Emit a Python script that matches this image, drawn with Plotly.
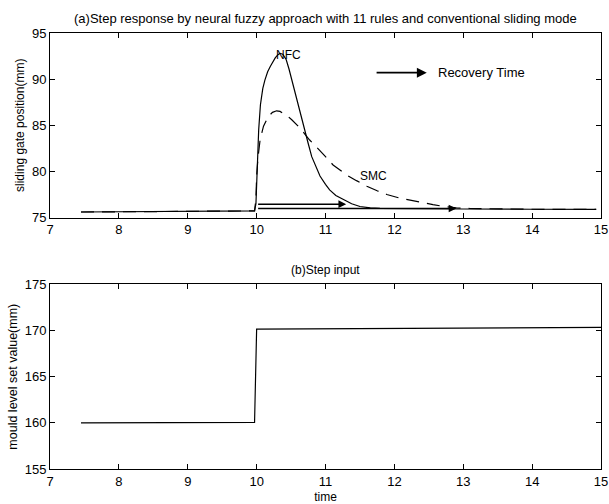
import plotly.graph_objects as go

# ---- data ----
nfc_x = [7.45, 8.0, 8.5, 9.0, 9.5, 9.97, 9.99, 10.0, 10.01, 10.02, 10.03, 10.04, 10.055, 10.07,
         10.09, 10.12, 10.16, 10.2, 10.27, 10.31, 10.34, 10.38, 10.43, 10.47, 10.51, 10.55,
         10.60, 10.65, 10.70, 10.75, 10.80, 10.86, 10.92, 11.0, 11.06, 11.15, 11.26, 11.38,
         11.5, 11.65, 11.79, 12.2, 13.0, 14.0, 14.93]
nfc_y = [75.6, 75.62, 75.65, 75.68, 75.7, 75.72, 76.5, 78.0, 80.5, 82.5, 84.5, 86.0, 87.2, 88.0,
         89.0, 89.9, 90.8, 91.4, 92.3, 92.65, 92.8, 92.7, 92.1, 91.1, 89.9, 88.7,
         87.4, 85.9, 84.5, 83.0, 81.6, 80.5, 79.5, 78.6, 78.0, 77.4, 76.95, 76.5,
         76.2, 76.05, 76.0, 75.95, 75.93, 75.9, 75.88]

smc_x = [7.45, 8.5, 9.5, 9.97, 9.99, 10.0, 10.02, 10.05, 10.1, 10.17, 10.23, 10.29, 10.34, 10.39,
         10.45, 10.51, 10.57, 10.63, 10.70, 10.77, 10.85, 10.92, 11.0, 11.11, 11.2, 11.31,
         11.45, 11.6, 11.75, 11.89, 12.08, 12.27, 12.42, 12.56, 12.72, 12.9, 13.1, 13.3,
         14.0, 14.93]
smc_y = [75.6, 75.65, 75.7, 75.72, 77.0, 79.5, 81.5, 83.4, 84.9, 85.95, 86.4, 86.57, 86.5, 86.3,
         86.0, 85.6, 85.15, 84.7, 84.05, 83.4, 82.8, 82.2, 81.6, 80.7, 80.2, 79.6,
         79.0, 78.4, 77.9, 77.5, 77.1, 76.8, 76.6, 76.4, 76.2, 76.05, 75.98, 75.95,
         75.9, 75.88]

step_x = [7.45, 9.0, 9.97, 10.0, 12.0, 15.0]
step_y = [160.0, 160.02, 160.05, 170.15, 170.25, 170.35]

# recovery-time arrows: start x, end x, level
rec_start = [10.0, 10.0]
rec_end = [11.3, 12.9]
rec_level = [76.45, 75.98]

x_ticks = [7, 8, 9, 10, 11, 12, 13, 14, 15]
top_ticks = [75, 80, 85, 90, 95]
bot_ticks = [155, 160, 165, 170, 175]

FONT = "Liberation Sans, Arial, sans-serif"

fig = go.Figure()
fig.add_trace(go.Scatter(x=nfc_x, y=nfc_y, mode="lines", line=dict(color="black", width=1.2),
                         xaxis="x", yaxis="y", showlegend=False))
fig.add_trace(go.Scatter(x=smc_x, y=smc_y, mode="lines",
                         line=dict(color="black", width=1.2, dash="13px,8px"),
                         xaxis="x", yaxis="y", showlegend=False))
fig.add_trace(go.Scatter(x=step_x, y=step_y, mode="lines", line=dict(color="black", width=1.2),
                         xaxis="x2", yaxis="y2", showlegend=False))

axis_common = dict(showline=True, linecolor="black", linewidth=1, mirror="ticks",
                   ticks="inside", ticklen=5, tickcolor="black", showgrid=False,
                   zeroline=False, automargin=False,
                   tickfont=dict(family=FONT, size=13, color="black"))

annotations = []
for xs, xe, lv in zip(rec_start, rec_end, rec_level):
    annotations.append(dict(x=xe, y=lv, ax=xs, ay=lv, xref="x", yref="y", axref="x", ayref="y",
                            showarrow=True, arrowhead=2, arrowsize=1.1, arrowwidth=1.4,
                            arrowcolor="black", text=""))
# legend-like arrow
annotations.append(dict(x=12.47, y=90.7, ax=11.72, ay=90.7, xref="x", yref="y", axref="x",
                        ayref="y", showarrow=True, arrowhead=2, arrowsize=1.1, arrowwidth=1.8,
                        arrowcolor="black", text=""))
annotations.append(dict(x=12.6, y=90.7, xref="x", yref="y", text="Recovery Time", showarrow=False,
                        xanchor="left", font=dict(family=FONT, size=13, color="black")))
annotations.append(dict(x=10.46, y=92.6, xref="x", yref="y", text="NFC", showarrow=False,
                        font=dict(family=FONT, size=12, color="black")))
annotations.append(dict(x=11.69, y=79.5, xref="x", yref="y", text="SMC", showarrow=False,
                        font=dict(family=FONT, size=12, color="black")))
annotations.append(dict(x=0.5, y=1.0, xref="x domain", yref="y domain", yshift=5,
                        text="(a)Step response by neural fuzzy approach with 11 rules and conventional sliding mode",
                        showarrow=False, yanchor="bottom",
                        font=dict(family=FONT, size=13, color="black")))
annotations.append(dict(x=0.5, y=1.0, xref="x2 domain", yref="y2 domain", yshift=5,
                        text="(b)Step input", showarrow=False, yanchor="bottom",
                        font=dict(family=FONT, size=12, color="black")))

fig.update_layout(
    width=609, height=504,
    margin=dict(l=50, r=8, t=33, b=35),
    paper_bgcolor="white", plot_bgcolor="white",
    font=dict(family=FONT, color="black"),
    xaxis=dict(domain=[0, 1], range=[7, 15], tickvals=x_ticks, anchor="y", **axis_common),
    yaxis=dict(domain=[0.5767, 1], range=[75, 95], tickvals=top_ticks, anchor="x",
               title=dict(text="sliding gate position(mm)", font=dict(family=FONT, size=12), standoff=4),
               **axis_common),
    xaxis2=dict(domain=[0, 1], range=[7, 15], tickvals=x_ticks, anchor="y2",
                title=dict(text="time", font=dict(family=FONT, size=12), standoff=7), **axis_common),
    yaxis2=dict(domain=[0, 0.4233], range=[155, 175], tickvals=bot_ticks, anchor="x2",
                title=dict(text="mould level set value(mm)", font=dict(family=FONT, size=12.5), standoff=4),
                **axis_common),
    annotations=annotations,
)

fig.write_html("out.html")
